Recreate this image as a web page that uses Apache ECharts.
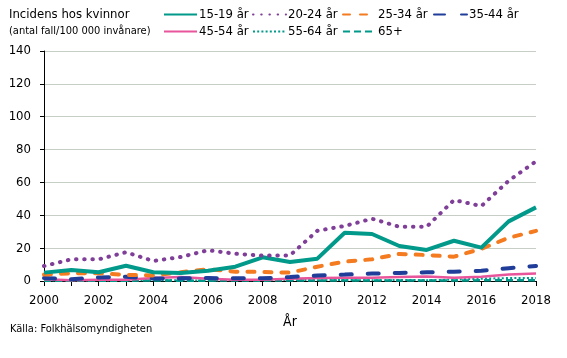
<!DOCTYPE html>
<html><head><meta charset="utf-8">
<script src="https://cdn.jsdelivr.net/npm/echarts@6/dist/echarts.min.js"></script>
<style>html,body{margin:0;padding:0;background:#fff}#c{width:567px;height:358px}</style>
</head><body><div id="c"></div>
<script>
const years = ['2000','2001','2002','2003','2004','2005','2006','2007','2008','2009','2010','2011','2012','2013','2014','2015','2016','2017','2018'];
const yTicks = [0,20,40,60,80,100,120,140];
const names = ['15-19 år','20-24 år','25-34 år','35-44 år','45-54 år','55-64 år','65+'];
const s1519 = [5.1,6.7,5.3,9.3,5.3,4.8,6.3,8.7,14.4,11.6,13.6,29.4,28.6,21.3,18.9,24.5,20.3,36.3,44.8];
const s2024 = [9.1,13.2,13.2,17.5,12.2,14.6,18.7,16.6,15.4,15.6,30.6,33.5,37.9,33.0,33.0,49.3,45.6,61.0,72.8];
const s2534 = [3.9,4.7,4.7,3.7,3.4,5.3,7.2,5.7,5.5,5.1,8.7,11.8,13.2,16.5,15.8,14.8,19.6,26.3,30.5];
const s3544 = [1.8,1.0,2.2,2.6,1.5,1.6,1.8,1.6,1.6,2.4,3.4,3.9,4.5,4.9,5.3,5.7,6.2,7.8,9.2];
const s4554 = [1.0,0.5,0.7,0.8,1.8,2.4,1.4,0.8,0.8,1.3,1.8,2.0,2.0,2.4,2.8,2.0,2.6,4.0,4.6];
const s5564 = [0.3,0.3,0.4,0.3,0.5,0.4,0.3,0.5,0.4,0.6,0.5,0.6,0.4,0.6,0.5,0.8,1.4,1.8,1.8];
const s65 = [0.2,0.2,0.2,0.2,0.3,0.2,0.2,0.3,0.2,0.3,0.3,0.3,0.3,0.3,0.3,0.3,0.4,0.4,0.4];

const FONT = '"DejaVu Sans Condensed", "Liberation Sans", sans-serif';
const TEAL = '#00998a', PURPLE = '#7f3f98', ORANGE = '#f47b20', BLUE = '#1f3d99', PINK = '#e8559b';

const styles = [
  {color: TEAL, width: 4, type: 'solid', cap: 'butt'},
  {color: PURPLE, width: 4, type: [0.5, 7.7], cap: 'round'},
  {color: ORANGE, width: 4, type: [7, 10], cap: 'round'},
  {color: BLUE, width: 4, type: [11, 16], cap: 'round'},
  {color: PINK, width: 2.5, type: 'solid', cap: 'butt'},
  {color: TEAL, width: 2, type: [2, 2.2], cap: 'butt'},
  {color: TEAL, width: 2.5, type: [7, 4], cap: 'butt'}
];
const data = [s1519, s2024, s2534, s3544, s4554, s5564, s65];
const drawOrder = [6,5,4,3,2,0,1];

const legendPos = [[163,8],[252,8],[342,8],[433,8],[163,25],[252,25],[342,25]];

const chart = echarts.init(document.getElementById('c'));
chart.setOption({
  animation: false,
  textStyle: {fontFamily: FONT},
  title: {
    text: '{a|Incidens hos kvinnor}\n{b|(antal fall/100 000 invånare)}',
    left: 9, top: 6, padding: 0,
    textStyle: {
      fontFamily: FONT, fontSize: 13, fontWeight: 'normal', color: '#000',
      rich: {
        a: {fontFamily: FONT, fontSize: 13, color: '#000', lineHeight: 17},
        b: {fontFamily: FONT, fontSize: 11, color: '#000', lineHeight: 17}
      }
    }
  },
  legend: names.map((n, i) => ({
    data: [n], left: legendPos[i][0], top: legendPos[i][1], padding: 0,
    itemWidth: 33, itemHeight: 10, selectedMode: false,
    itemStyle: {opacity: 0},
    textStyle: {fontFamily: FONT, fontSize: 13, color: '#000', padding: [0,0,0,-3]}
  })),
  grid: {left: 44, right: 31, top: 51, bottom: 77},
  xAxis: {
    type: 'category', data: years, boundaryGap: false,
    name: 'År', nameLocation: 'middle', nameGap: 34,
    nameTextStyle: {fontFamily: FONT, fontSize: 14, color: '#000'},
    axisLine: {lineStyle: {color: '#000', width: 1}},
    axisTick: {interval: 0, length: 5, lineStyle: {color: '#000'}},
    axisLabel: {interval: 1, margin: 13, fontFamily: FONT, fontSize: 13, color: '#000'},
    splitLine: {show: false}
  },
  yAxis: {
    type: 'value', min: yTicks[0], max: yTicks[yTicks.length-1], interval: 20,
    axisLine: {show: true, lineStyle: {color: '#000', width: 1}},
    axisTick: {show: true, length: 4, lineStyle: {color: '#000'}},
    axisLabel: {margin: 13, fontFamily: FONT, fontSize: 13, color: '#000'},
    splitLine: {lineStyle: {color: '#c6cec6', width: 1}}
  },
  graphic: [{
    type: 'text', left: 10, top: 324,
    style: {text: 'Källa: Folkhälsomyndigheten', font: '11px ' + FONT, fill: '#000'}
  }],
  series: drawOrder.map(i => ({
    name: names[i], type: 'line', data: data[i], symbol: 'none',
    lineStyle: styles[i], itemStyle: {color: styles[i].color}, z: 2
  }))
});
</script></body></html>
